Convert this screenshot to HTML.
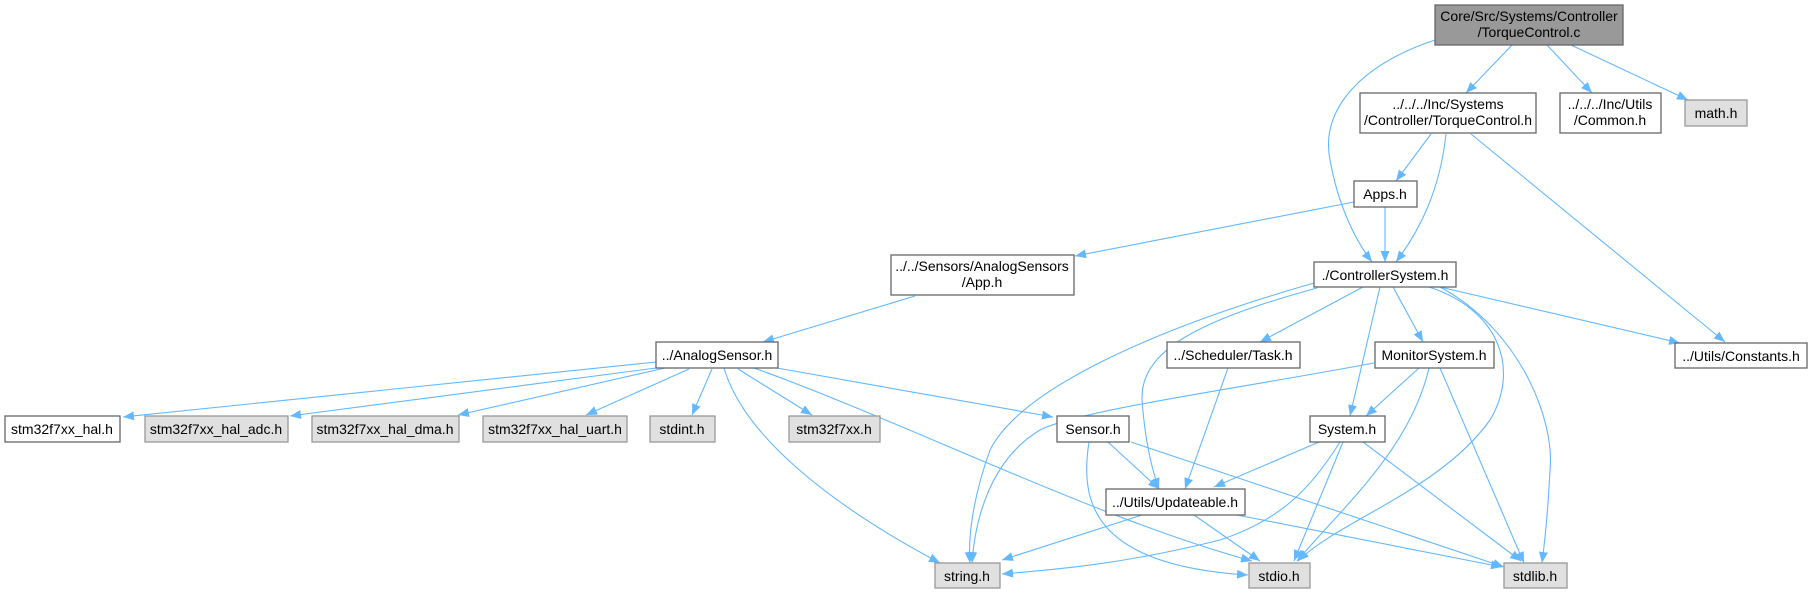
<!DOCTYPE html>
<html><head><meta charset="utf-8"><style>
html,body{margin:0;padding:0;background:#fff;}
svg{display:block;}
text{font-family:"Liberation Sans",Arial,sans-serif;font-size:14px;fill:#000;text-anchor:middle;}
.w{fill:#fff;stroke:#666;stroke-width:1.3;}
.g{fill:#e0e0e0;stroke:#999;stroke-width:1.3;}
.c{fill:#999;stroke:#666;stroke-width:1.3;}
.e{fill:none;stroke:#63b8ff;stroke-width:1.1;marker-end:url(#a);}
</style></head><body>
<svg width="1813" height="593" viewBox="0 0 1813 593" xmlns="http://www.w3.org/2000/svg">
<defs><marker id="a" markerUnits="userSpaceOnUse" markerWidth="12" markerHeight="10" refX="11" refY="5" orient="auto"><path d="M0,0.5 L11,5 L0,9.5 z" fill="#63b8ff"/></marker></defs>
<g>
<path class="e" d="M1435,40 C1360,65 1320,110 1330,160 C1338,205 1355,240 1372,262"/>
<path class="e" d="M1512,45 L1466,93"/>
<path class="e" d="M1547,45 L1592,93"/>
<path class="e" d="M1571,45 L1688,100"/>
<path class="e" d="M1431,134 L1396,181"/>
<path class="e" d="M1446,134 C1440,190 1420,230 1396,262"/>
<path class="e" d="M1471,134 L1725,342"/>
<path class="e" d="M1385,207 L1385,262"/>
<path class="e" d="M1354,202 L1075,256"/>
<path class="e" d="M915,296 L763,342"/>
<path class="e" d="M656,362 L123,417"/>
<path class="e" d="M656,368 L290,416"/>
<path class="e" d="M665,368 L458,415"/>
<path class="e" d="M689,369 L586,415"/>
<path class="e" d="M712,369 L692,415"/>
<path class="e" d="M738,369 L812,415"/>
<path class="e" d="M724,368 C745,440 840,510 940,563"/>
<path class="e" d="M754,368 C900,420 1100,520 1252,561"/>
<path class="e" d="M777,368 L1053,417"/>
<path class="e" d="M1314,283 C1150,330 1020,390 990,450 C972,500 968,540 970,563"/>
<path class="e" d="M1317,288 C1200,320 1140,350 1142,400 C1145,440 1152,470 1159,489"/>
<path class="e" d="M1363,287 L1260,342"/>
<path class="e" d="M1380,287 L1350,416"/>
<path class="e" d="M1393,287 L1423,342"/>
<path class="e" d="M1429,287 C1500,310 1520,370 1490,420 C1440,490 1340,520 1298,561"/>
<path class="e" d="M1440,287 C1520,330 1555,420 1550,470 C1548,510 1545,540 1542,563"/>
<path class="e" d="M1440,287 L1680,343"/>
<path class="e" d="M1228,368 L1185,489"/>
<path class="e" d="M1374,363 C1230,390 1080,410 1040,430 C990,460 975,520 972,563"/>
<path class="e" d="M1419,368 L1366,416"/>
<path class="e" d="M1429,368 C1410,450 1340,510 1297,561"/>
<path class="e" d="M1440,368 L1524,563"/>
<path class="e" d="M1108,442 L1159,489"/>
<path class="e" d="M1089,442 C1080,500 1090,565 1248,575"/>
<path class="e" d="M1131,442 L1504,567"/>
<path class="e" d="M1319,442 L1214,487"/>
<path class="e" d="M1340,442 C1310,490 1280,520 1220,540 C1120,565 1050,570 1002,574"/>
<path class="e" d="M1343,442 L1294,561"/>
<path class="e" d="M1363,442 L1521,561"/>
<path class="e" d="M1142,515 L1002,560"/>
<path class="e" d="M1194,515 L1260,561"/>
<path class="e" d="M1237,515 L1502,567"/>
</g>
<g>
<rect class="c" x="1435" y="5" width="188" height="40"/>
<text x="1529" y="21">Core/Src/Systems/Controller</text><text x="1529" y="37">/TorqueControl.c</text>
<rect class="w" x="1360" y="93" width="176" height="40"/>
<text x="1448" y="109">../../../Inc/Systems</text><text x="1448" y="125">/Controller/TorqueControl.h</text>
<rect class="w" x="1560" y="93" width="101" height="40"/>
<text x="1610" y="109">../../../Inc/Utils</text><text x="1610" y="125">/Common.h</text>
<rect class="g" x="1685" y="100" width="62" height="26"/><text x="1716" y="118">math.h</text>
<rect class="w" x="1354" y="181" width="63" height="26"/><text x="1385" y="199">Apps.h</text>
<rect class="w" x="891" y="255" width="183" height="40"/>
<text x="982" y="271">../../Sensors/AnalogSensors</text><text x="982" y="287">/App.h</text>
<rect class="w" x="1314" y="262" width="142" height="25"/><text x="1385" y="280">./ControllerSystem.h</text>
<rect class="w" x="656" y="342" width="122" height="26"/><text x="717" y="360">../AnalogSensor.h</text>
<rect class="w" x="1167" y="342" width="133" height="26"/><text x="1233" y="360">../Scheduler/Task.h</text>
<rect class="w" x="1375" y="342" width="119" height="26"/><text x="1434" y="360">MonitorSystem.h</text>
<rect class="w" x="1675" y="343" width="132" height="25"/><text x="1741" y="361">../Utils/Constants.h</text>
<rect class="w" x="5" y="416" width="115" height="26"/><text x="62" y="434">stm32f7xx_hal.h</text>
<rect class="g" x="145" y="416" width="143" height="26"/><text x="216" y="434">stm32f7xx_hal_adc.h</text>
<rect class="g" x="312" y="416" width="147" height="26"/><text x="385" y="434">stm32f7xx_hal_dma.h</text>
<rect class="g" x="483" y="416" width="144" height="26"/><text x="555" y="434">stm32f7xx_hal_uart.h</text>
<rect class="g" x="650" y="416" width="65" height="26"/><text x="682" y="434">stdint.h</text>
<rect class="g" x="789" y="416" width="91" height="26"/><text x="834" y="434">stm32f7xx.h</text>
<rect class="w" x="1057" y="416" width="72" height="26"/><text x="1093" y="434">Sensor.h</text>
<rect class="w" x="1310" y="416" width="75" height="26"/><text x="1347" y="434">System.h</text>
<rect class="w" x="1106" y="489" width="139" height="26"/><text x="1175" y="507">../Utils/Updateable.h</text>
<rect class="g" x="935" y="563" width="65" height="25"/><text x="967" y="581">string.h</text>
<rect class="g" x="1249" y="563" width="61" height="25"/><text x="1279" y="581">stdio.h</text>
<rect class="g" x="1504" y="563" width="63" height="25"/><text x="1535" y="581">stdlib.h</text>
</g>
</svg>
</body></html>
